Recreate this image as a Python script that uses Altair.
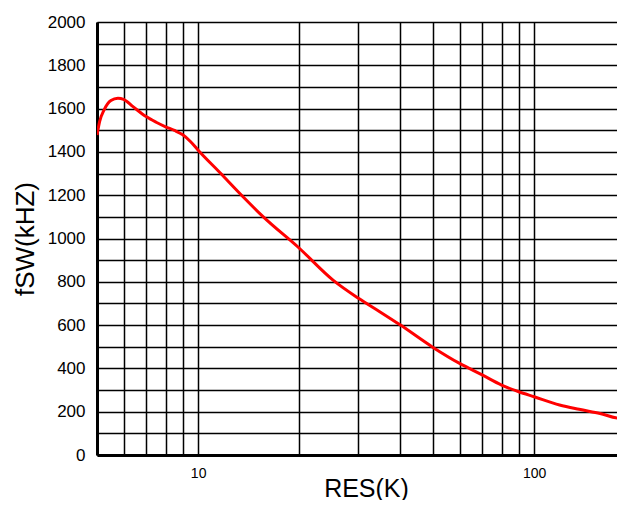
import altair as alt
import pandas as pd

# Curve (RES in kOhm, fSW in kHz)
res_k = [5, 5.09, 5.25, 5.5, 5.77, 6, 6.4, 7, 7.5, 8, 8.5, 9, 9.5, 10, 11.6, 13.6,
         15.6, 20, 25.2, 30, 34.7, 40, 50, 60, 70, 80, 90, 100, 119, 136, 157, 180, 200]
fsw_khz = [1478, 1540, 1594, 1637, 1648, 1643, 1609, 1563, 1537, 1516, 1499, 1479,
           1447, 1408, 1305, 1193, 1101, 955, 808, 724, 662, 600, 497, 423, 370, 323,
           292, 269, 231, 211, 192, 170, 170]

x_grid = [5, 6, 7, 8, 9, 10, 20, 30, 40, 50, 60, 70, 80, 90, 100, 200]
y_grid = list(range(0, 2001, 100))

df = pd.DataFrame({"res": res_k, "fsw": fsw_khz})

FONT = "Liberation Sans"

x_axis = alt.Axis(
    values=x_grid,
    labelExpr="(datum.value == 10 || datum.value == 100) ? format(datum.value, 'd') : ''",
    labelOverlap=False,
    labelFont=FONT, labelFontSize=14, labelFontWeight="normal", labelColor="#000",
    labelPadding=11,
    grid=True, gridColor="#000", gridWidth=1.5, gridOpacity=1,
    ticks=False,
    domain=True, domainColor="#000", domainWidth=3,
    title="RES(K)", titleFont=FONT, titleFontSize=25, titleFontWeight="normal",
    titleColor="#000", titleX=269, titleY=41, titleAlign="center",
    titleBaseline="alphabetic",
)

y_axis = alt.Axis(
    values=y_grid,
    labelExpr="datum.value % 200 == 0 ? format(datum.value, 'd') : ''",
    labelOverlap=False,
    labelFont=FONT, labelFontSize=17, labelFontWeight="normal", labelColor="#000",
    labelPadding=12,
    grid=True, gridColor="#000", gridWidth=1.5, gridOpacity=1,
    ticks=False,
    domain=True, domainColor="#000", domainWidth=3,
    title="fSW(kHZ)", titleFont=FONT, titleFontSize=26, titleFontWeight="normal",
    titleColor="#000", titleX=-64, titleY=216.5, titleAngle=-90,
    titleAlign="center", titleBaseline="alphabetic",
)

chart = alt.Chart(df).mark_line(
    color="#ff0000", strokeWidth=3, interpolate="monotone", clip=True
).encode(
    x=alt.X("res:Q", scale=alt.Scale(type="log", domain=[5, 176.4], nice=False), axis=x_axis),
    y=alt.Y("fsw:Q", scale=alt.Scale(domain=[0, 2000], nice=False), axis=y_axis),
).properties(
    width=520,
    height=433,
    autosize=alt.AutoSizeParams(type="none"),
    padding={"left": 89, "top": 14, "right": 0, "bottom": 45},
    title=alt.TitleParams(
        "fSW VS REST", font=FONT, fontSize=26, fontWeight="bold", color="#000",
        anchor="middle", dx=-8, offset=11, baseline="alphabetic",
    ),
).configure_view(strokeWidth=0).configure(background="white")

chart.save("out.html", embed_options={"renderer": "svg", "actions": False})
